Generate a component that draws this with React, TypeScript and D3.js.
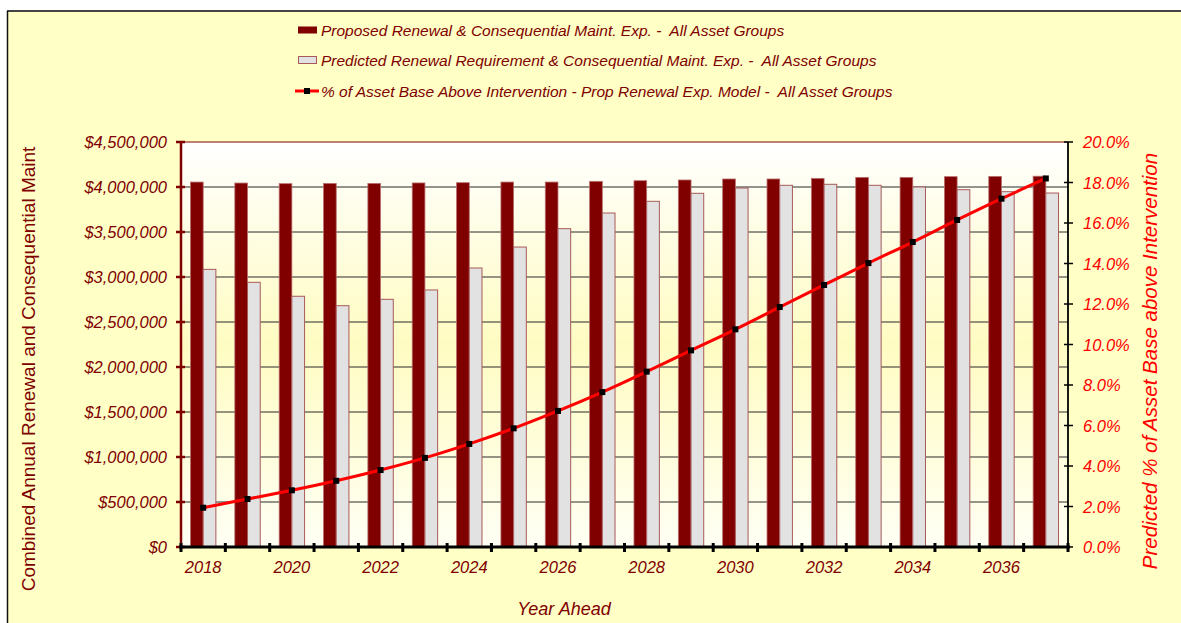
import React, { useEffect, useRef } from "react";
import * as d3 from "d3";

// chart values
const years = [
  "2018", "2019", "2020", "2021", "2022", "2023", "2024", "2025", "2026", "2027",
  "2028", "2029", "2030", "2031", "2032", "2033", "2034", "2035", "2036", "2037",
];

const proposedExp = [
  4055000, 4044000, 4037000, 4040000, 4040000, 4045000, 4048000, 4055000, 4055000, 4063000,
  4070000, 4078000, 4089000, 4089000, 4096000, 4107000, 4107000, 4115000, 4118000, 4120000,
];

const predictedReq = [
  3085000, 2941000, 2786000, 2681000, 2752000, 2856000, 3100000, 3333000, 3537000, 3711000,
  3841000, 3930000, 3989000, 4019000, 4030000, 4019000, 4000000, 3970000, 3948000, 3933000,
];

const pctAboveIntervention = [
  1.94, 2.37, 2.8, 3.27, 3.8, 4.4, 5.09, 5.86, 6.72, 7.65,
  8.66, 9.71, 10.75, 11.85, 12.94, 14.02, 15.06, 16.15, 17.2, 18.2,
];

const moneyTicks = [0, 500000, 1000000, 1500000, 2000000, 2500000, 3000000, 3500000, 4000000, 4500000];
const pctTicks = [0, 2, 4, 6, 8, 10, 12, 14, 16, 18, 20];

const legendLabels = [
  "Proposed Renewal & Consequential Maint. Exp. -  All Asset Groups",
  "Predicted Renewal Requirement & Consequential Maint. Exp. -  All Asset Groups",
  "% of Asset Base Above Intervention - Prop Renewal Exp. Model -  All Asset Groups",
];

const W = 1181;
const H = 623;
const plot = { left: 181, right: 1068, top: 142, bottom: 547 };
const DARK = "#800000";
const FONT = "'Liberation Sans', Arial, sans-serif";

export default function App() {
  const ref = useRef<HTMLDivElement>(null);

  useEffect(() => {
    if (!ref.current) return;
    ref.current.innerHTML = "";

    const svg = d3
      .select(ref.current)
      .append("svg")
      .attr("width", W)
      .attr("height", H)
      .style("display", "block")
      .style("font-family", FONT);

    // page + chart area
    svg.append("rect").attr("width", W).attr("height", H).attr("fill", "#ffffff");
    svg.append("rect").attr("x", 7).attr("y", 11).attr("width", W - 7).attr("height", H - 11).attr("fill", "#ffffc6");
    svg.append("line").attr("x1", 7).attr("x2", W).attr("y1", 11).attr("y2", 11).attr("stroke", "#444").attr("stroke-width", 2);
    svg.append("line").attr("x1", 7.5).attr("x2", 7.5).attr("y1", 11).attr("y2", H).attr("stroke", "#111").attr("stroke-width", 1.5);

    const x = d3.scaleBand().domain(years).range([plot.left, plot.right]).paddingInner(0).paddingOuter(0);
    const y = d3.scaleLinear().domain([0, 4500000]).range([plot.bottom, plot.top]);
    const y2 = d3.scaleLinear().domain([0, 20]).range([plot.bottom, plot.top]);

    // plot background gradient
    const defs = svg.append("defs");
    const grad = defs.append("linearGradient").attr("id", "plotBg").attr("x1", 0).attr("x2", 0).attr("y1", 0).attr("y2", 1);
    grad.append("stop").attr("offset", "0%").attr("stop-color", "#ffffff");
    grad.append("stop").attr("offset", "50%").attr("stop-color", "#fffcc2");
    grad.append("stop").attr("offset", "100%").attr("stop-color", "#fffff4");
    svg
      .append("rect")
      .attr("x", plot.left)
      .attr("y", plot.top)
      .attr("width", plot.right - plot.left)
      .attr("height", plot.bottom - plot.top)
      .attr("fill", "url(#plotBg)");

    // gridlines
    svg
      .append("g")
      .selectAll("line")
      .data(moneyTicks.slice(1))
      .join("line")
      .attr("x1", plot.left)
      .attr("x2", plot.right)
      .attr("y1", (d) => y(d))
      .attr("y2", (d) => y(d))
      .attr("stroke", (d) => (d === 4500000 ? DARK : "#2a2a2a"))
      .attr("stroke-width", 1.2);

    // bars
    const bw = 12.7;
    const barG = svg.append("g");
    years.forEach((yr, i) => {
      const cx = (x(yr) as number) + x.bandwidth() / 2;
      barG
        .append("rect")
        .attr("x", cx - bw)
        .attr("y", y(proposedExp[i]))
        .attr("width", bw)
        .attr("height", plot.bottom - y(proposedExp[i]))
        .attr("fill", DARK)
        .attr("stroke", "#b87070")
        .attr("stroke-width", 0.8);
      barG
        .append("rect")
        .attr("x", cx)
        .attr("y", y(predictedReq[i]))
        .attr("width", bw)
        .attr("height", plot.bottom - y(predictedReq[i]))
        .attr("fill", "#e2e2e2")
        .attr("stroke", "#a85a5a")
        .attr("stroke-width", 1);
    });

    // line series
    const pts = years.map((yr, i) => [(x(yr) as number) + x.bandwidth() / 2, y2(pctAboveIntervention[i])] as [number, number]);
    svg
      .append("path")
      .attr("d", d3.line().curve(d3.curveCatmullRom.alpha(0.5))(pts))
      .attr("fill", "none")
      .attr("stroke", "#ff0000")
      .attr("stroke-width", 3);
    svg
      .append("g")
      .selectAll("rect")
      .data(pts)
      .join("rect")
      .attr("x", (d) => d[0] - 3)
      .attr("y", (d) => d[1] - 3)
      .attr("width", 6)
      .attr("height", 6)
      .attr("fill", "#000");

    // left axis
    svg.append("line").attr("x1", plot.left).attr("x2", plot.left).attr("y1", plot.top).attr("y2", plot.bottom).attr("stroke", DARK).attr("stroke-width", 2.5);
    const leftAxis = svg.append("g");
    leftAxis
      .selectAll("line")
      .data(moneyTicks)
      .join("line")
      .attr("x1", plot.left - 5)
      .attr("x2", plot.left + 4)
      .attr("y1", (d) => y(d))
      .attr("y2", (d) => y(d))
      .attr("stroke", DARK)
      .attr("stroke-width", 2.5);
    leftAxis
      .selectAll("text")
      .data(moneyTicks)
      .join("text")
      .attr("x", 167)
      .attr("y", (d) => y(d) + 6)
      .attr("text-anchor", "end")
      .attr("fill", DARK)
      .style("font-size", "16.5px")
      .style("font-style", "italic")
      .text((d) => "$" + d3.format(",")(d));

    // right axis
    svg.append("line").attr("x1", plot.right).attr("x2", plot.right).attr("y1", plot.top).attr("y2", plot.bottom).attr("stroke", "#000").attr("stroke-width", 1.8);
    const rightAxis = svg.append("g");
    rightAxis
      .selectAll("line")
      .data(pctTicks)
      .join("line")
      .attr("x1", plot.right - 4)
      .attr("x2", plot.right + 5)
      .attr("y1", (d) => y2(d))
      .attr("y2", (d) => y2(d))
      .attr("stroke", "#000")
      .attr("stroke-width", 1.5);
    rightAxis
      .selectAll("text")
      .data(pctTicks)
      .join("text")
      .attr("x", 1083)
      .attr("y", (d) => y2(d) + 6)
      .attr("fill", "#ff0000")
      .style("font-size", "16.5px")
      .style("font-style", "italic")
      .text((d) => d.toFixed(1) + "%");

    // bottom axis
    svg.append("line").attr("x1", plot.left - 2).attr("x2", plot.right + 2).attr("y1", plot.bottom).attr("y2", plot.bottom).attr("stroke", "#000").attr("stroke-width", 3);
    const bounds = years.map((yr) => x(yr) as number).concat([plot.right]);
    const bottomAxis = svg.append("g");
    bottomAxis
      .selectAll("line")
      .data(bounds)
      .join("line")
      .attr("x1", (d) => d)
      .attr("x2", (d) => d)
      .attr("y1", plot.bottom - 4)
      .attr("y2", plot.bottom + 5)
      .attr("stroke", "#000")
      .attr("stroke-width", 3);
    bottomAxis
      .selectAll("text")
      .data(years.filter((_, i) => i % 2 === 0))
      .join("text")
      .attr("x", (d) => (x(d) as number) + x.bandwidth() / 2)
      .attr("y", 573)
      .attr("text-anchor", "middle")
      .attr("fill", DARK)
      .style("font-size", "16.5px")
      .style("font-style", "italic")
      .text((d) => d);

    // axis titles
    svg
      .append("text")
      .attr("transform", "translate(564,615)")
      .attr("text-anchor", "middle")
      .attr("fill", DARK)
      .style("font-size", "18px")
      .style("font-style", "italic")
      .text("Year Ahead");
    svg
      .append("text")
      .attr("transform", "translate(35,369) rotate(-90)")
      .attr("text-anchor", "middle")
      .attr("fill", DARK)
      .style("font-size", "19px")
      .text("Combined Annual Renewal and Consequential Maint");
    svg
      .append("text")
      .attr("transform", "translate(1157,361) rotate(-90)")
      .attr("text-anchor", "middle")
      .attr("fill", "#ff0000")
      .style("font-size", "20.5px")
      .style("font-style", "italic")
      .text("Predicted % of Asset Base above Intervention");

    // legend
    const rowsY = [30, 60, 91];
    const legend = svg.append("g");
    legendLabels.forEach((label, i) => {
      const cy = rowsY[i];
      if (i === 0) {
        legend.append("rect").attr("x", 298).attr("y", cy - 3.5).attr("width", 19).attr("height", 7).attr("fill", DARK);
      } else if (i === 1) {
        legend.append("rect").attr("x", 298.5).attr("y", cy - 3.5).attr("width", 18).attr("height", 7).attr("fill", "#e2e2e2").attr("stroke", "#a85a5a").attr("stroke-width", 1);
      } else {
        legend.append("line").attr("x1", 295).attr("x2", 319).attr("y1", cy).attr("y2", cy).attr("stroke", "#ff0000").attr("stroke-width", 3);
        legend.append("rect").attr("x", 304).attr("y", cy - 3).attr("width", 6).attr("height", 6).attr("fill", "#000");
      }
      legend
        .append("text")
        .attr("x", 321)
        .attr("y", cy + 5.5)
        .attr("fill", DARK)
        .style("font-size", "15.5px")
        .style("font-style", "italic")
        .style("white-space", "pre")
        .text(label);
    });
  }, []);

  return <div ref={ref} style={{ position: "absolute", left: 0, top: 0 }} />;
}
